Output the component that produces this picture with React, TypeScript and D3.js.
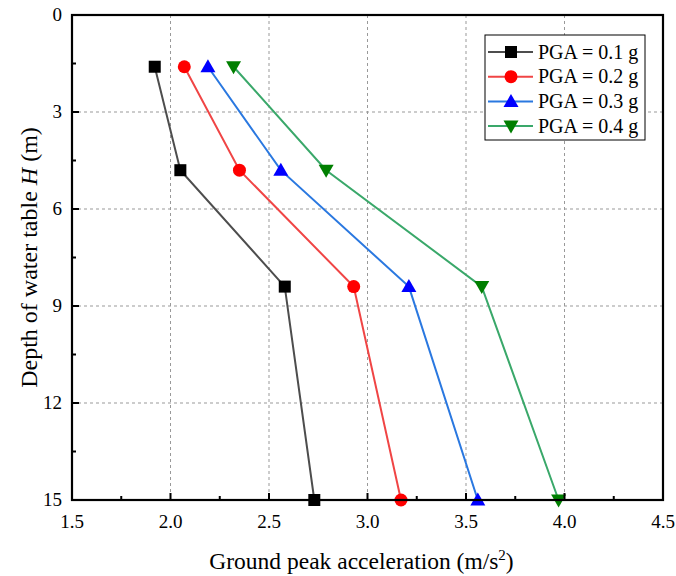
import React from "react";
import * as d3 from "d3";

const depths = [1.6, 4.8, 8.4, 15];
const seriesNames = ["PGA = 0.1 g", "PGA = 0.2 g", "PGA = 0.3 g", "PGA = 0.4 g"];
const pga01 = [1.92, 2.05, 2.58, 2.73];
const pga02 = [2.07, 2.35, 2.93, 3.17];
const pga03 = [2.19, 2.56, 3.21, 3.56];
const pga04 = [2.32, 2.79, 3.58, 3.97];
const xTicks = [1.5, 2.0, 2.5, 3.0, 3.5, 4.0, 4.5];
const yTicks = [0, 3, 6, 9, 12, 15];

const lineColors = ["#4d4d4d", "#f04545", "#2a78e0", "#3aa86a"];
const markerColors = ["#000000", "#ff0000", "#0000ff", "#007f00"];
const markerTypes = ["square", "circle", "triangle", "triangleDown"];

const W = 676, H = 576;
const m = { left: 72, right: 663, top: 15, bottom: 500 };
const font = "Liberation Serif, Times New Roman, DejaVu Serif, serif";

function Marker({ type, x, y, color }: { type: string; x: number; y: number; color: string }) {
  if (type === "square") return <rect x={x - 6} y={y - 6} width={12} height={12} fill={color} />;
  if (type === "circle") return <circle cx={x} cy={y} r={6.5} fill={color} />;
  if (type === "triangle")
    return <path d={`M${x},${y - 7.5} L${x + 7.5},${y + 5.5} L${x - 7.5},${y + 5.5} Z`} fill={color} />;
  return <path d={`M${x},${y + 7.5} L${x + 7.5},${y - 5.5} L${x - 7.5},${y - 5.5} Z`} fill={color} />;
}

export default function App() {
  const x = d3.scaleLinear().domain([1.5, 4.5]).range([m.left, m.right]);
  const y = d3.scaleLinear().domain([0, 15]).range([m.top, m.bottom]);
  const data = [pga01, pga02, pga03, pga04];
  const line = d3
    .line<[number, number]>()
    .x((d) => x(d[0]))
    .y((d) => y(d[1]));
  const xMinor = d3.range(1.75, 4.5, 0.5);
  const yMinor = d3.range(1.5, 15, 3);
  const legX = 485, legY = 35, legW = 160, legH = 105;
  const ts = { fontFamily: font };
  return (
    <svg width={W} height={H} style={{ display: "block", position: "absolute", left: 0, top: 0, fontFamily: font }}>
      <rect width={W} height={H} fill="#fff" />
      {xTicks.slice(1, -1).map((t) => (
        <line key={"gx" + t} x1={x(t)} x2={x(t)} y1={m.top} y2={m.bottom} stroke="#999" strokeWidth={1} strokeDasharray="3,3" />
      ))}
      {yTicks.slice(1, -1).map((t) => (
        <line key={"gy" + t} x1={m.left} x2={m.right} y1={y(t)} y2={y(t)} stroke="#999" strokeWidth={1} strokeDasharray="3,3" />
      ))}
      {data.map((vals, i) => (
        <g key={"s" + i}>
          <path d={line(vals.map((v, j) => [v, depths[j]] as [number, number])) || ""} fill="none" stroke={lineColors[i]} strokeWidth={2} />
          {vals.map((v, j) => (
            <Marker key={j} type={markerTypes[i]} x={x(v)} y={y(depths[j])} color={markerColors[i]} />
          ))}
        </g>
      ))}
      <rect x={m.left} y={m.top} width={m.right - m.left} height={m.bottom - m.top} fill="none" stroke="#000" strokeWidth={2.2} />
      {xTicks.map((t) => (
        <line key={"xt" + t} x1={x(t)} x2={x(t)} y1={m.bottom} y2={m.bottom - 7} stroke="#000" strokeWidth={2} />
      ))}
      {xMinor.map((t) => (
        <line key={"xm" + t} x1={x(t)} x2={x(t)} y1={m.bottom} y2={m.bottom - 4} stroke="#000" strokeWidth={2} />
      ))}
      {yTicks.map((t) => (
        <line key={"yt" + t} x1={m.left} x2={m.left + 7} y1={y(t)} y2={y(t)} stroke="#000" strokeWidth={2} />
      ))}
      {yMinor.map((t) => (
        <line key={"ym" + t} x1={m.left} x2={m.left + 4} y1={y(t)} y2={y(t)} stroke="#000" strokeWidth={2} />
      ))}
      {xTicks.map((t) => (
        <text key={"xl" + t} x={x(t)} y={528} textAnchor="middle" fontSize={19} style={ts}>
          {t.toFixed(1)}
        </text>
      ))}
      {yTicks.map((t) => (
        <text key={"yl" + t} x={62} y={y(t) + 6} textAnchor="end" fontSize={19} style={ts}>
          {t}
        </text>
      ))}
      <text x={(m.left + m.right) / 2 - 6} y={569} textAnchor="middle" fontSize={23.5} style={ts}>
        Ground peak acceleration (m/s<tspan dy={-9} fontSize={15}>2</tspan>
        <tspan dy={9}>)</tspan>
      </text>
      <text transform={`translate(37,${(m.top + m.bottom) / 2}) rotate(-90)`} textAnchor="middle" fontSize={24} style={ts}>
        Depth of water table <tspan fontStyle="italic">H</tspan> (m)
      </text>
      <rect x={legX} y={legY} width={legW} height={legH} fill="#fff" stroke="#000" strokeWidth={1} />
      {seriesNames.map((name, i) => {
        const ry = legY + 17 + i * 24.7;
        return (
          <g key={"lg" + i}>
            <line x1={legX + 3} x2={legX + 48} y1={ry} y2={ry} stroke={lineColors[i]} strokeWidth={2} />
            <Marker type={markerTypes[i]} x={legX + 26} y={ry} color={markerColors[i]} />
            <text x={legX + 53} y={ry + 6.5} fontSize={20} style={ts}>
              {name}
            </text>
          </g>
        );
      })}
    </svg>
  );
}
